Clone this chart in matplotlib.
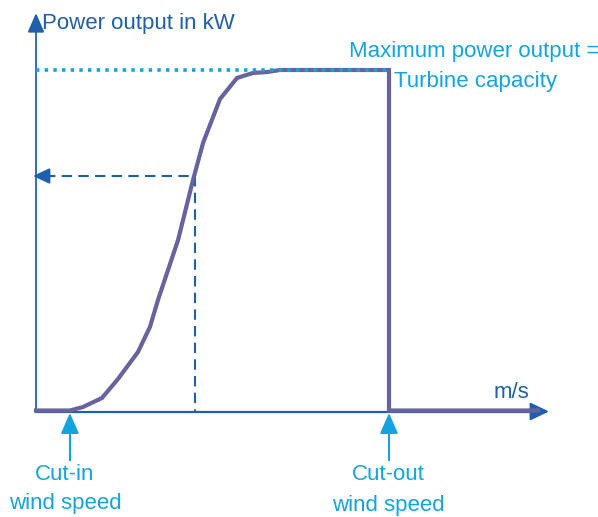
import matplotlib
matplotlib.use("Agg")
import matplotlib.pyplot as plt

# power curve of a wind turbine (schematic)
wind_speed = [0, 2.4, 3.33, 4.67, 5.81, 7.22, 8.07, 8.64, 10.06, 11.12, 11.83,
              13.03, 14.24, 15.37, 16.36, 17.28, 25, 25, 35.55]
power_kw = [0, 0, 31, 110, 278, 515, 736, 974, 1502, 2031, 2357,
            2744, 2930, 2974, 2982, 3000, 3000, 0, 0]
capacity_kw = 3000
cut_in = 2.4
cut_out = 25
rated_speed = 11.26
rated_power = 2066

DARK = "#1f5fab"
LIGHT = "#13a4df"
CURVE = "#67639e"
FONT = ["Liberation Sans", "DejaVu Sans"]

W, H = 598, 517
# pixel scale of the schematic
x_px, x0_px = 14.12, 36
y_px, y0_px = 0.1135, 410.5

fig = plt.figure(figsize=(W / 100, H / 100), dpi=100)
ax = fig.add_axes([0, 0, 1, 1])
ax.set_xlim(-x0_px / x_px, (W - x0_px) / x_px)
ax.set_ylim((y0_px - H) / y_px, y0_px / y_px)
ax.axis("off")


def vx(px):
    return (px - x0_px) / x_px


def vy(py):
    return (y0_px - py) / y_px


def head(tip, tail, color, hl, hw, lw=1.5):
    ax.annotate("", xy=tip, xytext=tail,
                arrowprops=dict(arrowstyle=f"-|>,head_length={hl},head_width={hw}",
                                color=color, lw=lw, shrinkA=0, shrinkB=0,
                                mutation_scale=10))


# axes with arrows
ax.plot([0, vx(535)], [vy(411.5), vy(411.5)], color=DARK, lw=1.6, zorder=2)
head((vx(549), vy(411.5)), (vx(530), vy(411.5)), DARK, 1.15, 0.55)
ax.plot([0, 0], [vy(411.5), vy(25)], color="#2f6fb8", lw=1.4, zorder=2)
head((0, vy(13)), (0, vy(30)), DARK, 1.15, 0.5)

# rated point guide lines
ax.plot([vx(45), rated_speed], [rated_power, rated_power], color=DARK, lw=1.5,
        dashes=(5, 3), zorder=2)
ax.plot([rated_speed, rated_speed], [rated_power, 0], color=DARK, lw=1.5,
        dashes=(5, 3), zorder=2)
head((vx(33), rated_power), (vx(48), rated_power), DARK, 1.0, 0.47)

# power curve
ax.plot(wind_speed, power_kw, color=CURVE, lw=3.0, solid_joinstyle="miter", zorder=3)

# maximum output level
ax.plot([0, cut_out], [capacity_kw, capacity_kw], color=LIGHT, lw=2.6,
        dashes=(0.95, 1.45), zorder=4)

# cut-in / cut-out markers
for v in (cut_in, cut_out):
    ax.plot([v, v], [vy(460), vy(425)], color=LIGHT, lw=1.5, zorder=2)
    head((v, vy(413)), (v, vy(432)), LIGHT, 1.25, 0.55)

fs = 16


def label(x, y, s, color, ha="center"):
    fig.text(x / W, 1 - y / H, s, color=color, fontsize=fs, family=FONT,
             va="center", ha=ha)


label(42, 24, "Power output in kW", DARK, ha="left")
label(511, 393, "m/s", DARK)
label(474, 52, "Maximum power output =", LIGHT)
label(476, 82, "Turbine capacity", LIGHT)
label(65, 474, "Cut-in", LIGHT)
label(65, 504, "wind speed", LIGHT)
label(388, 475, "Cut-out", LIGHT)
label(388, 505, "wind speed", LIGHT)

fig.savefig("out.png", dpi=100)
